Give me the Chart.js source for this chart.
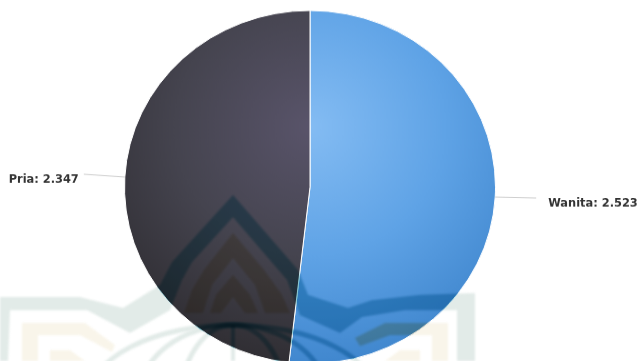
<!DOCTYPE html>
<html>
<head>
<meta charset="utf-8">
<style>
html,body{margin:0;padding:0;background:#fff;overflow:hidden}
#frame{width:641px;height:361px;overflow:hidden;position:relative}
#pie{display:block;transform-origin:0 0;transform:scaleY(0.952)}
</style>
<script src="https://cdn.jsdelivr.net/npm/chart.js@4"></script>
</head>
<body>
<div id="frame"><canvas id="pie" width="641" height="392"></canvas></div>
<script>
const categories = ['Wanita', 'Pria'];
const values = [2523, 2347];
const blueStops = ['#84bcf3', '#5fa3e6', '#3b82ca'];
const darkStops = ['#59546a', '#45444f', '#2c2a2e'];
const SQUASH = 0.952;

const formatCount = v => String(v).replace(/\B(?=(\d{3})+$)/g, '.');

// Radial shading per slice, lit from a point above the pie centre.
function sliceFill(context) {
  const stops = context.dataIndex === 0 ? blueStops : darkStops;
  const chart = context.chart, a = chart.chartArea;
  if (!a) return stops[0];
  const cx = (a.left + a.right) / 2, cy = a.top + a.height * 0.33;
  const g = chart.ctx.createRadialGradient(cx, cy, 0, cx, cy, 270);
  stops.forEach((c, i) => g.addColorStop(i / (stops.length - 1), c));
  return g;
}

// Crest printed behind the chart: book cover, pointed arches and a globe.
function poly(ctx, pts, fill) {
  ctx.fillStyle = fill;
  ctx.beginPath();
  pts.forEach((p, i) => i ? ctx.lineTo(p[0], p[1]) : ctx.moveTo(p[0], p[1]));
  ctx.closePath();
  ctx.fill();
}
function drawCrest(ctx, green, tan) {
  ctx.save();
  ctx.scale(1, 1 / SQUASH);
  ctx.filter = 'blur(1.2px)';
  poly(ctx, [[0,297],[80,297],[123,308],[160,285],[172,262],[233,195],[285,255],[298,270],[308,295],[348,308],[372,300],[420,295],[475,293],
             [475,361],[457,361],[457,310],[405,310],[362,317],[340,333],[300,315],[287,280],[233,217],[192,262],[182,280],[170,310],
             [130,333],[87,310],[10,310],[8,361],[0,361]], green);
  poly(ctx, [[233,233],[264,270],[282,295],[290,313],[265,313],[255,285],[233,258],[212,285],[203,313],[184,313],[192,290],[204,270]], tan);
  poly(ctx, [[233,275],[250,295],[258,313],[245,313],[233,297],[221,313],[210,313],[216,295]], tan);
  poly(ctx, [[22,323],[85,323],[115,345],[112,352],[80,335],[38,335],[38,361],[22,361]], tan);
  poly(ctx, [[50,350],[70,350],[85,361],[50,361]], tan);
  poly(ctx, [[448,323],[385,323],[355,338],[360,346],[390,335],[432,335],[432,361],[448,361]], tan);
  poly(ctx, [[420,350],[400,350],[385,361],[420,361]], tan);
  ctx.strokeStyle = green;
  ctx.lineWidth = 5;
  [[145,75],[95,75],[52,75]].forEach(r => {
    ctx.beginPath();
    ctx.ellipse(233, 400, r[0], r[1], 0, Math.PI, 2 * Math.PI);
    ctx.stroke();
  });
  ctx.lineWidth = 4;
  ctx.beginPath();
  ctx.moveTo(233, 325);
  ctx.lineTo(233, 361);
  ctx.stroke();
  ctx.restore();
}

const crest = {
  id: 'crest',
  beforeDatasetsDraw(chart) {
    drawCrest(chart.ctx, '#e2ebe8', '#f9f5ea');
  },
  afterDatasetsDraw(chart) {
    const ctx = chart.ctx, el = chart.getDatasetMeta(0).data[0];
    ctx.save();
    ctx.beginPath();
    ctx.arc(el.x, el.y, el.outerRadius, 0, 2 * Math.PI);
    ctx.clip();
    ctx.globalCompositeOperation = 'multiply';
    drawCrest(ctx, '#8accd8', '#e8dcc0');
    ctx.restore();
  }
};

// Outside labels with a thin connector from each slice's mid angle.
const sliceLabels = {
  id: 'sliceLabels',
  afterDraw(chart) {
    const ctx = chart.ctx;
    chart.getDatasetMeta(0).data.forEach((el, i) => {
      const mid = (el.startAngle + el.endAngle) / 2;
      const dir = Math.cos(mid) >= 0 ? 1 : -1;
      const x0 = el.x + Math.cos(mid) * el.outerRadius;
      const y0 = el.y + Math.sin(mid) * el.outerRadius;
      ctx.save();
      ctx.strokeStyle = '#cccccc';
      ctx.lineWidth = 1;
      ctx.beginPath();
      ctx.moveTo(x0, y0);
      ctx.lineTo(x0 + dir * 41, dir > 0 ? y0 + 1 : y0 - 3);
      ctx.stroke();
      ctx.font = 'bold 11.4px "DejaVu Sans"';
      ctx.fillStyle = '#333333';
      ctx.textAlign = dir > 0 ? 'left' : 'right';
      ctx.textBaseline = 'middle';
      ctx.fillText(categories[i] + ': ' + formatCount(values[i]), x0 + dir * (dir > 0 ? 53 : 46), y0 + (dir > 0 ? 7 : 3));
      ctx.restore();
    });
  }
};

new Chart(document.getElementById('pie'), {
  type: 'pie',
  data: {
    labels: categories,
    datasets: [{
      data: values,
      backgroundColor: sliceFill,
      borderColor: '#ffffff',
      borderWidth: 1
    }]
  },
  options: {
    responsive: false,
    animation: false,
    layout: { padding: { top: 10.5, bottom: 9.5, left: 0, right: 21 } },
    plugins: { legend: { display: false }, tooltip: { enabled: false } }
  },
  plugins: [crest, sliceLabels]
});
</script>
</body>
</html>
